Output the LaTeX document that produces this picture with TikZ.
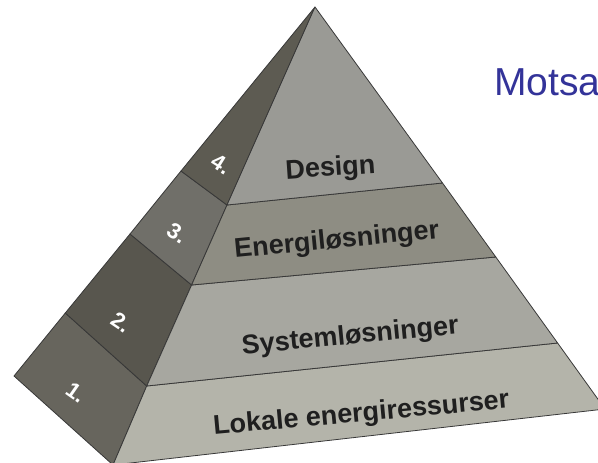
\documentclass[tikz,border=0pt]{standalone}
\usepackage{fontspec}
\setmainfont{Liberation Sans}

\definecolor{side1}{HTML}{67655D}
\definecolor{side2}{HTML}{58564E}
\definecolor{side3}{HTML}{706F69}
\definecolor{side4}{HTML}{5D5B52}
\definecolor{front1}{HTML}{B4B4AA}
\definecolor{front2}{HTML}{A7A7A0}
\definecolor{front3}{HTML}{8E8D83}
\definecolor{front4}{HTML}{9A9A95}
\definecolor{titleblue}{HTML}{333399}

\tikzset{
  edge/.style={draw=black!78, line width=.8pt, line join=round},
  lbl/.style={anchor=base, inner sep=0pt, text=black!88, font=\fontsize{27}{30}\selectfont\bfseries},
  num/.style={inner sep=0pt, text=white, font=\fontsize{22}{24}\selectfont\bfseries},
}

\begin{document}
\begin{tikzpicture}[x=1pt, y=-1pt]
\useasboundingbox (0,0) rectangle (598,463);
\clip (0,0) rectangle (598,463);

\coordinate (apex) at (315,7);
\coordinate (left) at (14,376);
\coordinate (bot) at (113,465);
\coordinate (right) at (605,409);

% ridge, outer edge and right edge points of the level borders
\coordinate (r1) at (227,205);
\coordinate (r2) at (191.6,285);
\coordinate (r3) at (146.7,386);
\coordinate (o1) at (181,171);
\coordinate (o2) at (130,234);
\coordinate (o3) at (65.3,313);
\coordinate (q1) at (442.5,183);
\coordinate (q2) at (495.8,257);
\coordinate (q3) at (557.6,343);

\filldraw[edge, fill=side1] (left) -- (o3) -- (r3) -- (bot) -- cycle;
\filldraw[edge, fill=side2] (o3) -- (o2) -- (r2) -- (r3) -- cycle;
\filldraw[edge, fill=side3] (o2) -- (o1) -- (r1) -- (r2) -- cycle;
\filldraw[edge, fill=side4] (o1) -- (apex) -- (r1) -- cycle;

\filldraw[edge, fill=front1] (r3) -- (bot) -- (right) -- (q3) -- cycle;
\filldraw[edge, fill=front2] (r2) -- (r3) -- (q3) -- (q2) -- cycle;
\filldraw[edge, fill=front3] (r1) -- (r2) -- (q2) -- (q1) -- cycle;
\filldraw[edge, fill=front4] (apex) -- (r1) -- (q1) -- cycle;

\node[lbl, rotate=4] (design) at (331,176) {Design};
\node[lbl, rotate=5.5] (energi) at (337.5,248) {Energiløsninger};
\node[lbl, rotate=5.5] (system) at (351,344) {Systemløsninger};
\node[lbl, rotate=5.2] (lokale) at (362,421.5) {Lokale energiressurser};

\foreach \n/\x/\y/\r in {1/76/393/-35, 2/121/322/-34, 3/177/233/-32, 4/221/164/-32}
\node[num, rotate=\r] (n\n) at (\x,\y) {\n.};

\node[anchor=base west, inner sep=0pt, text=titleblue, font=\fontsize{39}{42}\selectfont] (motsa) at (494,95) {Motsa};

\end{tikzpicture}
\end{document}
